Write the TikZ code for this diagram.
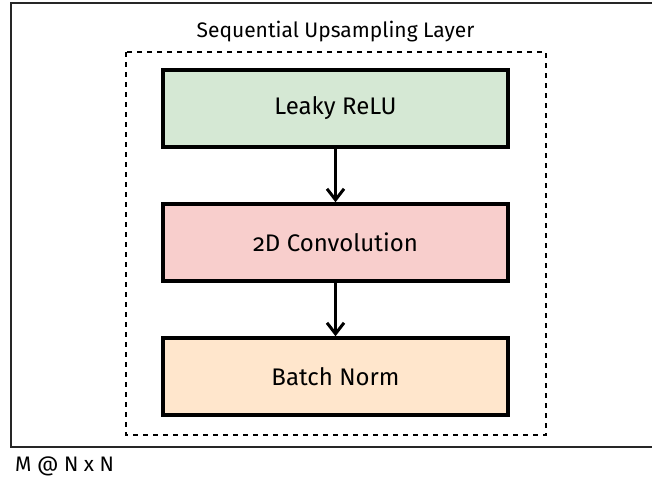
\documentclass[tikz,border=0pt]{standalone}
\usepackage{fontspec}
\setmainfont[Numbers=OldStyle]{Fira Sans}
\usetikzlibrary{arrows.meta}
\definecolor{actfill}{HTML}{D5E8D4}
\definecolor{convfill}{HTML}{F8CECC}
\definecolor{normfill}{HTML}{FFE6CC}
\tikzset{
  layerbox/.style={draw=black, line width=3.5pt, minimum width=345pt, minimum height=77pt,
    inner sep=0pt, font=\fontsize{24}{28}\selectfont},
  flow/.style={line width=3pt, -{Straight Barb[length=11pt,width=17pt,line width=3pt]}},
}
\begin{document}
\begin{tikzpicture}[x=1pt, y=-1pt]
  \useasboundingbox (0,0) rectangle (652,483);
  % outer frame (right edge runs off the page)
  \draw[line width=1.8pt, black!85] (660,3) -- (11,3) -- (11,447) -- (660,447);
  % dashed group around the layer stack
  \draw[line width=1.6pt, dash pattern=on 5pt off 5pt] (126,52) rectangle (546,435);
  \node[font=\fontsize{21}{24}\selectfont, anchor=base] (title) at (335.5,37) {Sequential Upsampling Layer};
  \node[layerbox, fill=actfill] (relu) at (335.5,108.5) {Leaky ReLU};
  \node[layerbox, fill=convfill] (conv) at (335.5,242.5) {2D Convolution};
  \node[layerbox, fill=normfill] (bn) at (335.5,376.5) {Batch Norm};
  \draw[flow] (relu) -- (conv);
  \draw[flow] (conv) -- (bn);
  \node[font=\fontsize{21}{24}\selectfont, anchor=base west, inner sep=0pt] (dims) at (15,471) {M @ N x N};
\end{tikzpicture}
\end{document}
